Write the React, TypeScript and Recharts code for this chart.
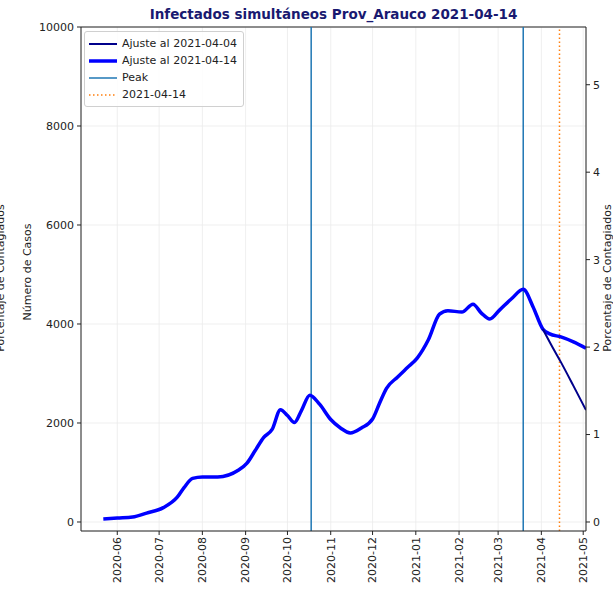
import { LineChart, Line, XAxis, YAxis, CartesianGrid, ReferenceLine, Legend } from 'recharts';

// Ajuste al 2021-04-14 (thick blue)
const fitDates14 = [
  '2020-05-22', '2020-06-01', '2020-06-12', '2020-06-22', '2020-07-04', '2020-07-14',
  '2020-07-19', '2020-07-25', '2020-08-01', '2020-08-12', '2020-08-27', '2020-09-02', '2020-09-08',
  '2020-09-14', '2020-09-20', '2020-09-26', '2020-10-01', '2020-10-06', '2020-10-11',
  '2020-10-17', '2020-10-24', '2020-11-01', '2020-11-08', '2020-11-15', '2020-11-23',
  '2020-12-01', '2020-12-06', '2020-12-11', '2020-12-19', '2020-12-26', '2021-01-02',
  '2021-01-10', '2021-01-18', '2021-01-24', '2021-02-03', '2021-02-11', '2021-02-17',
  '2021-02-23', '2021-03-02', '2021-03-11', '2021-03-19', '2021-03-26', '2021-04-02',
  '2021-04-07', '2021-04-15', '2021-04-24', '2021-05-03',
];
const fitCases14 = [
  60, 80, 100, 180, 290, 500,
  700, 880, 910, 910, 1050, 1190, 1450,
  1710, 1870, 2270, 2150, 2010, 2250,
  2560, 2380, 2070, 1900, 1800, 1900,
  2080, 2400, 2700, 2930, 3120, 3310,
  3680, 4200, 4270, 4240, 4400, 4220,
  4100, 4280, 4520, 4700, 4350, 3900,
  3800, 3740, 3640, 3510,
];

// Ajuste al 2021-04-04 (thin navy, only the part not hidden by the other fit)
const fitDates04 = ['2021-04-02', '2021-04-09', '2021-04-15', '2021-04-24', '2021-05-03'];
const fitCases04 = [3900, 3530, 3230, 2750, 2260];

const peakDates = ['2020-10-18', '2021-03-19'];
const reportDate = '2021-04-14';

const monthTicks = [
  '2020-06-01', '2020-07-01', '2020-08-01', '2020-09-01', '2020-10-01', '2020-11-01',
  '2020-12-01', '2021-01-01', '2021-02-01', '2021-03-01', '2021-04-01', '2021-05-01',
];
const monthLabels = [
  '2020-06', '2020-07', '2020-08', '2020-09', '2020-10', '2020-11',
  '2020-12', '2021-01', '2021-02', '2021-03', '2021-04', '2021-05',
];
const caseTicks = [0, 2000, 4000, 6000, 8000, 10000];
const percentTicks = [0, 1, 2, 3, 4, 5];

const toDay = (s: string) => {
  const [y, m, d] = s.split('-').map(Number);
  return (Date.UTC(y, m - 1, d) - Date.UTC(2020, 5, 1)) / 86400000;
};

const fit14 = fitDates14.map((d, i) => ({ day: toDay(d), casos: fitCases14[i] }));
const fit04 = fitDates04.map((d, i) => ({ day: toDay(d), casos: fitCases04[i] }));
const monthDays = monthTicks.map(toDay);

const legendItems = [
  { label: 'Ajuste al 2021-04-04', color: '#00008b', width: 2, dash: '' },
  { label: 'Ajuste al 2021-04-14', color: '#0000ff', width: 3.5, dash: '' },
  { label: 'Peak', color: '#1f77b4', width: 1.5, dash: '' },
  { label: '2021-04-14', color: '#ff7f0e', width: 1.5, dash: '1.5 2.5' },
];

const font = "'DejaVu Sans', sans-serif";

function MonthTick({ x, y, payload }: any) {
  const i = monthDays.indexOf(payload.value);
  return (
    <text
      x={x}
      y={y}
      transform={`rotate(-90 ${x} ${y})`}
      textAnchor="end"
      dy="0.35em"
      fontSize={11}
      fill="#222"
      fontFamily={font}
    >
      {monthLabels[i]}
    </text>
  );
}

function LegendBox() {
  return (
    <div
      style={{
        border: '1px solid #d0d0d0',
        borderRadius: 3,
        background: 'rgba(255,255,255,0.85)',
        padding: '3px 6px 3px 3px',
        fontFamily: font,
        fontSize: 11,
        color: '#222',
      }}
    >
      {legendItems.map((it) => (
        <div key={it.label} style={{ display: 'flex', alignItems: 'center', height: 17 }}>
          <svg width={29} height={10} style={{ marginRight: 5 }}>
            <line x1={1} y1={5} x2={29} y2={5} stroke={it.color} strokeWidth={it.width} strokeDasharray={it.dash} />
          </svg>
          <span>{it.label}</span>
        </div>
      ))}
    </div>
  );
}

export default function App() {
  return (
    <div style={{ position: 'absolute', left: 0, top: 0, width: 613, height: 590, fontFamily: font, background: '#fff' }}>
      <div
        style={{
          position: 'absolute',
          left: 81,
          width: 505,
          top: 6,
          textAlign: 'center',
          fontWeight: 'bold',
          fontSize: 13.5,
          color: '#191970',
        }}
      >
        Infectados simultáneos Prov_Arauco 2021-04-14
      </div>
      <LineChart width={613} height={590} margin={{ top: 27, right: 0, bottom: 0, left: 0 }}>
        <CartesianGrid yAxisId="left" stroke="#ebebeb" strokeWidth={0.8} />
        <XAxis
          dataKey="day"
          type="number"
          domain={[-26, 336]}
          ticks={monthDays}
          interval={0}
          allowDataOverflow
          height={59}
          tick={<MonthTick />}
          tickSize={4}
          tickMargin={2}
          stroke="#222"
        />
        <YAxis
          yAxisId="left"
          type="number"
          domain={[-182, 10000]}
          ticks={caseTicks}
          interval={0}
          allowDataOverflow
          width={81}
          tickSize={4}
          tickMargin={3}
          stroke="#222"
          tick={{ fontSize: 11, fill: '#222', fontFamily: font }}
          label={{
            content: () => (
              <g>
                <text x={31} y={272} transform="rotate(-90 31 272)" textAnchor="middle" fontSize={11} fill="#222" fontFamily={font}>
                  Número de Casos
                </text>
                <text x={4} y={278} transform="rotate(-90 4 278)" textAnchor="middle" fontSize={11} fill="#222" fontFamily={font}>
                  Porcentaje de Contagiados
                </text>
              </g>
            ),
          }}
        />
        <YAxis
          yAxisId="right"
          orientation="right"
          type="number"
          domain={[-0.103, 5.66]}
          ticks={percentTicks}
          interval={0}
          allowDataOverflow
          width={27}
          tickSize={4}
          tickMargin={3}
          stroke="#222"
          tick={{ fontSize: 11, fill: '#222', fontFamily: font }}
          label={{
            content: () => (
              <text x={611} y={278} transform="rotate(-90 611 278)" textAnchor="middle" fontSize={11} fill="#222" fontFamily={font}>
                Porcentaje de Contagiados
              </text>
            ),
          }}
        />
        <ReferenceLine yAxisId="left" y={10000} stroke="#222" strokeWidth={1} />
        {peakDates.map((d) => (
          <ReferenceLine key={d} yAxisId="left" x={toDay(d)} stroke="#1f77b4" strokeWidth={1.5} />
        ))}
        <ReferenceLine yAxisId="left" x={toDay(reportDate)} stroke="#ff7f0e" strokeWidth={1.5} strokeDasharray="1.5 2.5" />
        <Line
          yAxisId="left"
          data={fit14}
          dataKey="casos"
          type="monotone"
          stroke="#0000ff"
          strokeWidth={3.5}
          dot={false}
          isAnimationActive={false}
          name="Ajuste al 2021-04-14"
        />
        <Line
          yAxisId="left"
          data={fit04}
          dataKey="casos"
          type="monotone"
          stroke="#00008b"
          strokeWidth={2}
          dot={false}
          isAnimationActive={false}
          name="Ajuste al 2021-04-04"
        />
        <Legend
          layout="vertical"
          align="center"
          verticalAlign="middle"
          content={<LegendBox />}
          wrapperStyle={{ left: 84, top: 31, width: 'auto' }}
        />
      </LineChart>
    </div>
  );
}
